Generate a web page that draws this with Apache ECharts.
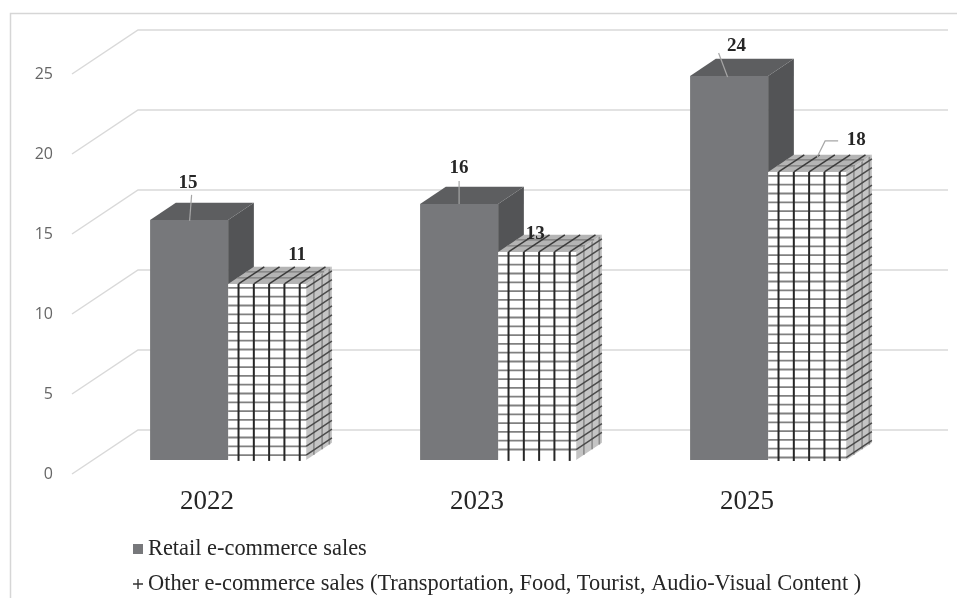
<!DOCTYPE html>
<html><head><meta charset="utf-8">
<script src="https://cdn.jsdelivr.net/npm/echarts@6/dist/echarts.min.js"></script>
<style>html,body{margin:0;padding:0;background:#fff}#main{width:957px;height:598px}</style>
</head><body><div id="main"></div>
<script>
// ---------- data ----------
const categories = ['2022', '2023', '2025'];
const retailSales = [15, 16, 24];
const otherSales = [11, 13, 18];
const yTicks = [0, 5, 10, 15, 20, 25];
const seriesNames = [
  'Retail e-commerce sales',
  'Other e-commerce sales (Transportation, Food, Tourist, Audio-Visual Content )'
];

// ---------- layout / style (not data) ----------
const DEPTH_X = 66, DEPTH_Y = -44;      // full floor depth offset
const BAR_D0 = 0.32, BAR_D1 = 0.71;     // bar depth range (fraction of floor)
const BAR_FRAC = 0.289;                 // bar width as fraction of band
// label placement relative to the bar front-top centre: text offset, leader polyline
const labelLayout = [
  [ {t:[-1,-37], l:[[0.5,1],[2.5,-25]]}, {t:[0,-36], l:[[0,0],[0,-23]]}, {t:[7.5,-30], l:[[-1.5,1],[-10.5,-23]]} ],
  [ {t:[30,-29], l:null}, {t:[-2,-18], l:null}, {t:[49,-32], l:[[10,-15],[18,-31],[31,-31]]} ]
];
const serif = '"Liberation Serif", "Times New Roman", serif';

function makeBarRenderer(kind) {
  return function (params, api) {
    const i = params.dataIndex;
    const v = api.value(1);
    const top = api.coord([i, v]);
    const base = api.coord([i, 0]);
    const bw = api.size([1, 0])[0];
    const W = bw * BAR_FRAC;
    const ox = DEPTH_X * BAR_D0, oy = DEPTH_Y * BAR_D0;
    const dx = DEPTH_X * (BAR_D1 - BAR_D0), dy = DEPTH_Y * (BAR_D1 - BAR_D0);
    const x0 = kind === 0 ? top[0] + ox - W : top[0] + ox;
    const x1 = x0 + W;
    const yT = top[1] + oy, yB = base[1] + oy;
    const children = [];
    const side = [[x1, yB], [x1, yT], [x1 + dx, yT + dy], [x1 + dx, yB + dy]];
    const topF = [[x0, yT], [x0 + dx, yT + dy], [x1 + dx, yT + dy], [x1, yT]];
    if (kind === 0) {
      children.push({type: 'polygon', shape: {points: side}, style: {fill: '#535456'}});
      children.push({type: 'polygon', shape: {points: topF}, style: {fill: '#5d5e60'}});
      children.push({type: 'rect', shape: {x: x0, y: yT, width: W, height: yB - yT}, style: {fill: '#77787b'}});
    } else {
      children.push({type: 'polygon', shape: {points: side}, style: {fill: '#c4c4c4'}});
      [0.3, 0.62, 0.9].forEach(f => {
        children.push({type: 'line', shape: {x1: x1 + f * dx, y1: yT + f * dy, x2: x1 + f * dx, y2: yB + f * dy},
          style: {stroke: '#8a8a8a', lineWidth: 1.6}});
      });
      children.push({type: 'polygon', shape: {points: topF}, style: {fill: '#b4b4b4'}});
      [0.35, 0.7].forEach(f => {
        children.push({type: 'line', shape: {x1: x0 + f * dx, y1: yT + f * dy, x2: x1 + f * dx, y2: yT + f * dy},
          style: {stroke: '#7c7c7c', lineWidth: 1.4}});
      });
      children.push({type: 'rect', shape: {x: x0, y: yT, width: W, height: yB - yT}, style: {fill: '#ffffff'}});
      const hs = 8.8;
      for (let y = yT + 4; y < yB - 2; y += hs) {
        children.push({type: 'line', shape: {x1: x0, y1: y, x2: x1, y2: y}, style: {stroke: '#808080', lineWidth: 1.8}});
        children.push({type: 'line', shape: {x1: x1, y1: y, x2: x1 + dx, y2: y + dy}, style: {stroke: '#4a4a4a', lineWidth: 1.5}});
      }
      const vs = W / 5.1;
      for (let k = 0; k < 5; k++) {
        const xv = x0 + vs * 0.68 + vs * k;
        children.push({type: 'line', shape: {x1: xv, y1: yT, x2: xv, y2: yB + 1}, style: {stroke: '#262626', lineWidth: 2}});
        children.push({type: 'line', shape: {x1: xv, y1: yT, x2: xv + dx, y2: yT + dy}, style: {stroke: '#3a3a3a', lineWidth: 1.5}});
      }
    }
    const ax = (x0 + x1) / 2, ay = yT;
    const lay = labelLayout[kind][i];
    if (lay.l) {
      children.push({type: 'polyline', shape: {points: lay.l.map(p => [ax + p[0], ay + p[1]])},
        style: {stroke: '#a6a6a6', lineWidth: 1.2, fill: null}});
    }
    children.push({type: 'text', style: {text: String(v), x: ax + lay.t[0], y: ay + lay.t[1],
      align: 'center', verticalAlign: 'middle', fontFamily: serif, fontWeight: 'bold', fontSize: 19, fill: '#262626'}});
    return {type: 'group', children: children};
  };
}

function gridRender(params, api) {
  const v = api.value(1);
  const bw = api.size([1, 0])[0];
  const p = api.coord([0, v]);
  const xl = p[0] - bw / 2;
  const xr = api.coord([categories.length - 1, v])[0] + bw / 2;
  return {type: 'polyline', shape: {points: [[xl, p[1]], [xl + DEPTH_X, p[1] + DEPTH_Y], [xr + DEPTH_X, p[1] + DEPTH_Y]]},
    style: {stroke: '#d9d9d9', lineWidth: 1.5, fill: null}, silent: true};
}

const legendBase = {
  left: 128, itemWidth: 10, itemHeight: 10,
  textStyle: {fontFamily: serif, fontSize: 22.4, color: '#262626'}
};

const chart = echarts.init(document.getElementById('main'), null, {renderer: 'canvas'});
chart.setOption({
  animation: false,
  backgroundColor: '#ffffff',
  graphic: [{type: 'rect', shape: {x: 10.5, y: 13.5, width: 1200, height: 1200},
    style: {fill: 'none', stroke: '#d6d6d6', lineWidth: 1.5}, silent: true, z: -10}],
  grid: {left: 72, top: 74, width: 810, height: 400},
  xAxis: {
    type: 'category', data: categories,
    axisLine: {show: false}, axisTick: {show: false},
    axisLabel: {fontFamily: serif, fontSize: 27, color: '#262626', margin: 14}
  },
  yAxis: {
    type: 'value', min: 0, max: 25, interval: 5,
    axisLine: {show: false}, axisTick: {show: false}, splitLine: {show: false},
    axisLabel: {fontFamily: '"Open Sans", "Noto Sans", sans-serif', fontSize: 16, color: '#666666', margin: 19}
  },
  legend: [
    Object.assign({}, legendBase, {top: 533, data: [{name: seriesNames[0], icon: 'rect'}]}),
    Object.assign({}, legendBase, {top: 568, data: [{name: seriesNames[1],
      icon: 'path://M0,4.3H10V5.7H0Z M4.3,0H5.7V10H4.3Z'}]})
  ],
  series: [
    {type: 'custom', name: 'grid', renderItem: gridRender, data: yTicks.map(t => [0, t]), silent: true, z: 1},
    {type: 'custom', name: seriesNames[0], renderItem: makeBarRenderer(0),
      itemStyle: {color: '#77787b'}, data: retailSales.map((v, i) => [i, v]), z: 2},
    {type: 'custom', name: seriesNames[1], renderItem: makeBarRenderer(1),
      itemStyle: {color: '#333333'}, data: otherSales.map((v, i) => [i, v]), z: 3}
  ]
});
</script></body></html>
